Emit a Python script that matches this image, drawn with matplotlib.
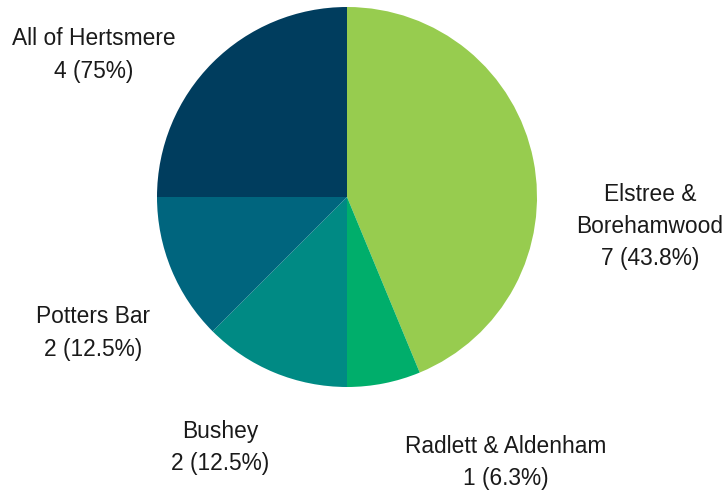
import matplotlib
matplotlib.use("Agg")
import matplotlib.pyplot as plt

categories = ["Elstree &\nBorehamwood", "Radlett & Aldenham", "Bushey", "Potters Bar", "All of Hertsmere"]
values = [7, 1, 2, 2, 4]
value_labels = ["7 (43.8%)", "1 (6.3%)", "2 (12.5%)", "2 (12.5%)", "4 (75%)"]
colors = ["#97CC4F", "#00AE6B", "#008A84", "#00657E", "#003D5E"]

# label centre positions in pie radius units (layout)
label_pos = [(1.595, -0.155), (0.837, -1.397), (-0.668, -1.318), (-1.337, -0.716), (-1.332, 0.748)]

plt.rcParams['font.family'] = ['Liberation Sans', 'DejaVu Sans']

fig = plt.figure(figsize=(7.27, 4.91), dpi=100)
W, H = 727, 491
cx, cy, r = 347, 197, 190
ax = fig.add_axes([(cx - r) / W, (H - cy - r) / H, 2 * r / W, 2 * r / H])
ax.pie(values, colors=colors, startangle=90, counterclock=False, radius=1,
       wedgeprops=dict(linewidth=0))
ax.set_xlim(-1, 1)
ax.set_ylim(-1, 1)
ax.set_aspect('auto')
ax.axis('off')

for cat, vl, (x, y) in zip(categories, value_labels, label_pos):
    ax.text(x, y, f"{cat}\n{vl}", ha='center', va='center', fontsize=16.4,
            color='#1a1a1a', linespacing=1.52, clip_on=False)

fig.savefig("out.png", dpi=100)
